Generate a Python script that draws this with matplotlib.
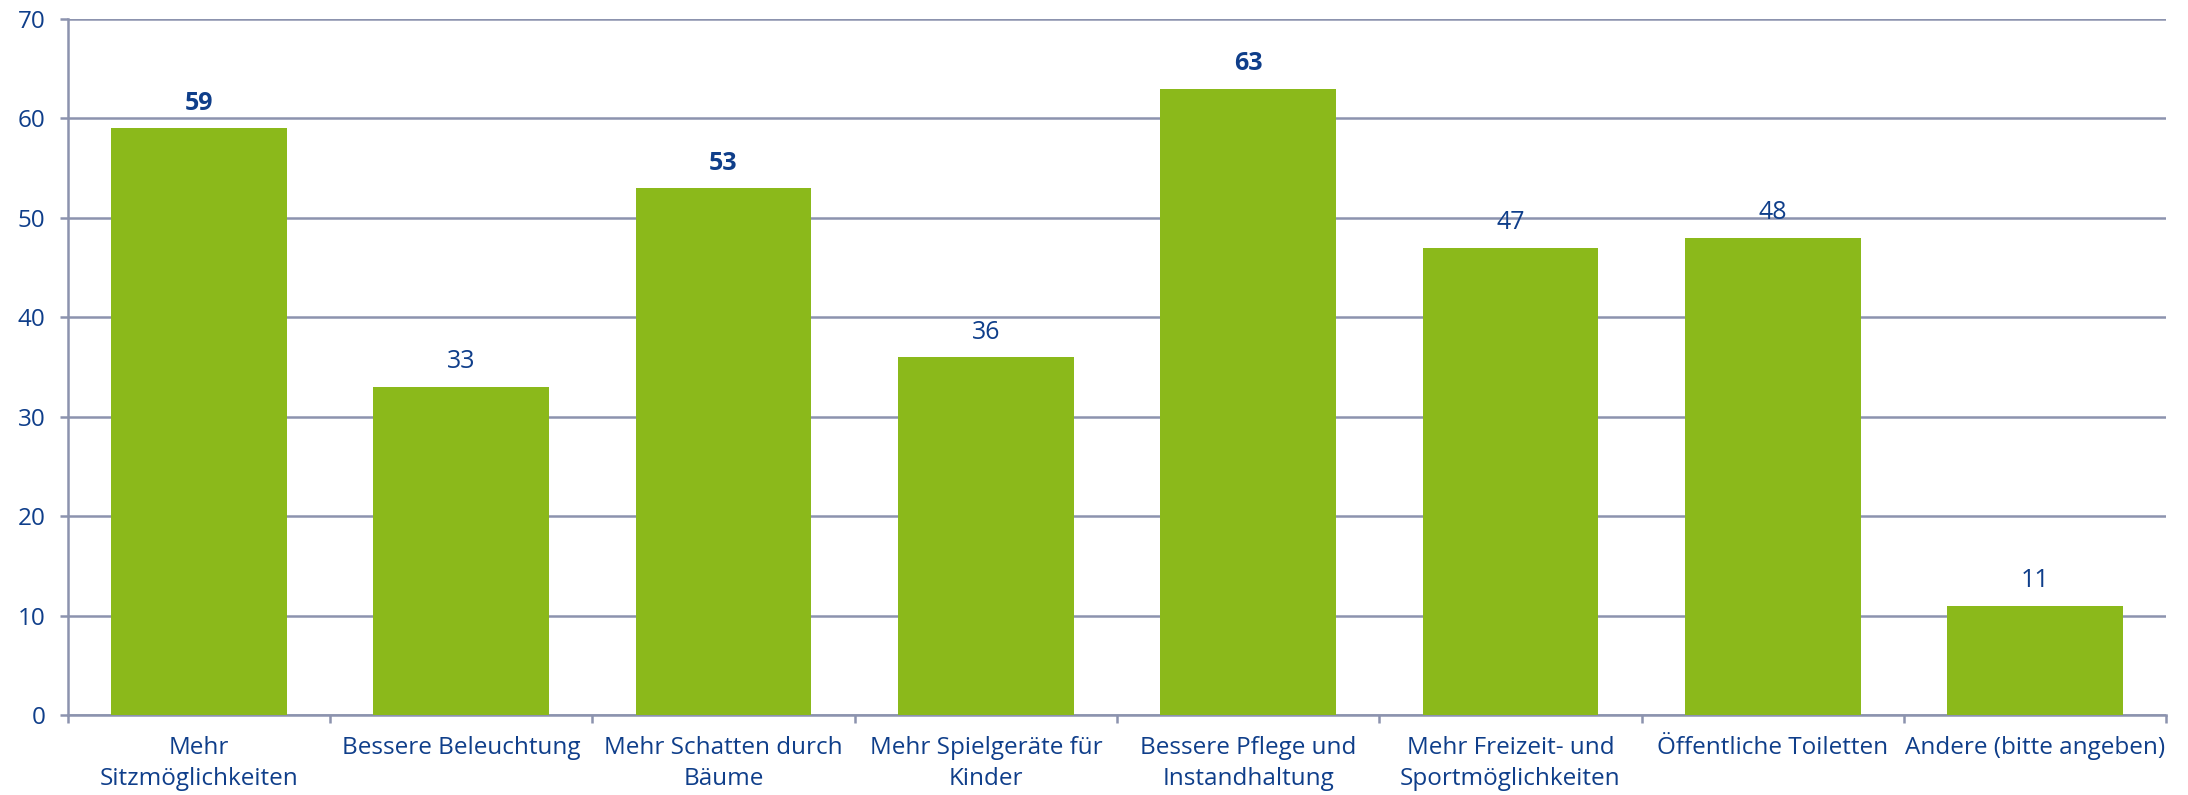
import matplotlib
matplotlib.use('Agg')
import matplotlib.pyplot as plt
import numpy as np

# data
categories = ['Mehr\nSitzmöglichkeiten', 'Bessere Beleuchtung', 'Mehr Schatten durch\nBäume',
              'Mehr Spielgeräte für\nKinder', 'Bessere Pflege und\nInstandhaltung',
              'Mehr Freizeit- und\nSportmöglichkeiten', 'Öffentliche Toiletten',
              'Andere (bitte angeben)']
values = [59, 33, 53, 36, 63, 47, 48, 11]
bold_labels = [True, False, True, False, True, False, False, False]

BAR_COLOR = '#8BB91B'
TEXT_COLOR = '#0F3E8A'
GRID_COLOR = '#8C93AE'

plt.rcParams['font.family'] = ['Open Sans', 'DejaVu Sans']

fig = plt.figure(figsize=(21.88, 7.95), dpi=100)
ax = fig.add_axes([0.031, 0.1006, 0.959, 0.8755])

x = np.arange(len(categories))
bars = ax.bar(x, values, width=0.67, color=BAR_COLOR, zorder=3)

for xi, v, b in zip(x, values, bold_labels):
    ax.annotate(str(v), (xi, v), xytext=(0, 9), textcoords='offset points',
                ha='center', va='bottom', fontsize=18, color=TEXT_COLOR,
                fontweight='bold' if b else 'normal')

ax.set_xlim(-0.5, len(categories) - 0.5)
ax.set_ylim(0, 70)
ax.set_yticks(range(0, 71, 10))
ax.yaxis.grid(True, color=GRID_COLOR, linewidth=1.8, zorder=0)
ax.set_axisbelow(True)

# category labels centred, ticks between categories
ax.set_xticks(x)
ax.set_xticklabels(categories, fontsize=17.5, color=TEXT_COLOR, linespacing=1.4)
ax.tick_params(axis='x', length=0, pad=15)
ax.set_xticks(np.arange(-0.5, len(categories)), minor=True)
ax.tick_params(axis='x', which='minor', length=6, width=1.8, color=GRID_COLOR)
ax.tick_params(axis='y', length=6, width=1.8, color=GRID_COLOR, labelsize=17.5,
               labelcolor=TEXT_COLOR, pad=10)

for side in ['top', 'right']:
    ax.spines[side].set_visible(False)
for side in ['left', 'bottom']:
    ax.spines[side].set_color(GRID_COLOR)
    ax.spines[side].set_linewidth(1.8)

fig.savefig('out.png', dpi=100)
